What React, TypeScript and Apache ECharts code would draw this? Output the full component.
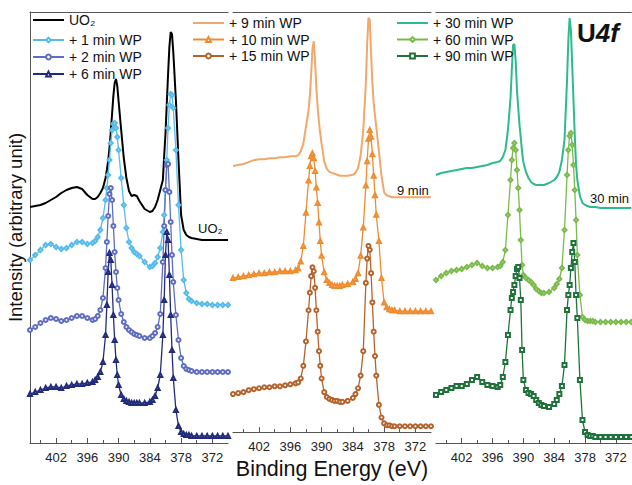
import React, { useEffect, useRef } from "react";
import * as echarts from "echarts";

// Binding energy grid (eV)
const energy = [
  407, 406, 405, 404, 403, 402, 401, 400, 399, 398, 397, 396, 395,
  394.5, 394, 393.5, 393, 392.5,
  392.25, 392, 391.75, 391.5, 391.25, 391, 390.75, 390.5, 390.25, 390,
  389.5, 389, 388.5, 388, 387.5, 387, 386.5, 386,
  385, 384, 383.5, 383, 382.5, 382, 381.5,
  381.25, 381, 380.75, 380.5, 380.25, 380, 379.75, 379.5,
  379, 378.5, 378, 377.5, 377, 376.5, 376,
  375, 374, 373, 372, 371, 370, 369,
];

// Panel 1
const uo2 = [
  236, 237, 238, 240, 243, 246, 250, 253, 255, 256, 254, 248, 244,
  244, 246, 250, 255, 265,
  273, 282, 295, 311, 329, 347, 360, 364, 357, 342,
  313, 285, 265, 252, 247, 248, 247, 242,
  234, 231, 232, 236, 243, 253, 263,
  287, 309, 339, 369, 396, 411, 409, 391,
  343, 283, 228, 213, 208, 206, 205,
  204, 203, 203, 203, 203, 203, 203,
];
const wp1 = [
  183, 188, 193, 198, 199, 196, 194, 195, 198, 201, 201, 199, 200,
  202, 206, 213, 225, 243,
  255, 268, 283, 300, 313, 319, 320, 315, 306, 293,
  265, 238, 215, 201, 195, 191, 189, 187,
  181, 176, 177, 180, 186, 195, 211,
  228, 253, 283, 315, 338, 349, 348, 335,
  293, 238, 193, 163, 150, 144, 142,
  140, 139, 139, 138, 138, 138, 138,
];
const wp2 = [
  113, 116, 120, 123, 125, 124, 122, 123, 125, 127, 127, 125, 123,
  124, 127, 133, 145, 175,
  201, 227, 249, 255, 243, 217, 191, 171, 155, 143,
  129, 121, 116, 113, 111, 109, 108, 107,
  105, 105, 107, 110, 116, 129, 181,
  217, 253, 278, 279, 251, 221, 188, 161,
  128, 103, 85, 77, 74, 73, 72,
  71, 71, 71, 71, 71, 71, 71,
];
const wp6 = [
  49, 51, 53, 55, 56, 56, 55, 57, 58, 59, 59, 60, 61,
  63, 66, 71, 81, 108,
  138, 171, 190, 183, 158, 128, 103, 83, 68, 58,
  48, 44, 42, 41, 40, 40, 40, 40,
  40, 41, 43, 47, 55, 68, 108,
  143, 188, 211, 203, 168, 128, 93, 65,
  33, 17, 11, 9, 8, 8, 7,
  7, 7, 7, 7, 7, 7, 7,
];
// Panel 2
const wp9 = [
  273, 274, 275, 277, 279, 280, 280, 281, 281, 282, 282, 283, 283,
  284, 288, 296, 313, 330,
  345, 367, 393, 401, 381, 353, 333, 318, 306, 296,
  278, 270, 267, 266, 265, 264, 263, 263,
  263, 264, 266, 271, 284, 310, 358,
  398, 425, 423, 388, 358, 338, 325, 313,
  288, 263, 246, 243, 242, 241, 241,
  241, 241, 241, 241, 241, 241, 241,
];
const wp10 = [
  158, 159, 160, 161, 162, 163, 163, 164, 164, 165, 165, 165, 166,
  168, 175, 191, 225, 258,
  273, 283, 286, 281, 268, 251, 235, 215, 196, 181,
  164, 156, 153, 151, 150, 150, 150, 151,
  152, 154, 157, 163, 181, 210, 253,
  278, 301, 310, 303, 285, 263, 243, 223,
  196, 158, 133, 128, 126, 125, 125,
  124, 124, 124, 124, 124, 124, 124,
];
const wp15 = [
  39, 40, 41, 43, 44, 45, 46, 46, 47, 47, 48, 49, 50,
  51, 55, 68, 93, 125,
  143, 160, 169, 165, 148, 125, 103, 83, 68, 55,
  41, 36, 34, 33, 32, 32, 31, 31,
  32, 35, 39, 45, 58, 83, 153,
  178, 191, 187, 163, 133, 103, 78, 58,
  28, 15, 9, 7, 7, 6, 6,
  6, 6, 6, 6, 6, 6, 6,
];
// Panel 3
const wp30 = [
  268, 270, 271, 272, 273, 274, 275, 275, 276, 277, 278, 280, 281,
  282, 286, 293, 313, 345,
  373, 398, 399, 383, 353, 335, 318, 305, 291, 281,
  271, 265, 261, 259, 258, 258, 258, 258,
  260, 263, 266, 271, 283, 303, 363,
  403, 425, 413, 378, 343, 308, 278, 263,
  247, 240, 238, 237, 236, 236, 236,
  235, 235, 235, 235, 235, 235, 235,
];
const wp60 = [
  163, 167, 170, 172, 173, 174, 176, 178, 180, 177, 175, 175, 176,
  177, 181, 193, 228, 263,
  283, 295, 300, 293, 273, 255, 233, 203, 178, 168,
  165, 163, 161, 158, 154, 152, 150, 150,
  151, 155, 159, 164, 175, 213, 268,
  293, 307, 310, 298, 278, 253, 223, 188,
  148, 126, 123, 122, 122, 122, 121,
  121, 121, 121, 121, 121, 121, 121,
];
const wp90 = [
  48, 51, 53, 55, 57, 57, 59, 63, 66, 61, 58, 57, 56,
  58, 66, 81, 108, 133,
  145, 151, 158, 167, 174, 176, 165, 143, 93, 63,
  53, 50, 49, 47, 43, 40, 38, 37,
  36, 39, 43, 49, 57, 78, 133,
  148, 158, 175, 191, 200, 181, 148, 125,
  63, 23, 11, 8, 7, 7, 6,
  6, 6, 6, 6, 6, 6, 6,
];

const majorTicks = [402, 396, 390, 384, 378, 372];
const minorTicks = [405, 399, 393, 387, 381, 375];
const xMin = 369;
const xMax = 407;
const yMin = 0;
const yMax = 431;

const FONT = 'Arial, "Liberation Sans", Helvetica, sans-serif';

const seriesDefs = [
  { name: "UO₂", values: uo2, panel: 0, color: "#000000", symbol: "none", width: 2 },
  { name: "+ 1 min WP", values: wp1, panel: 0, color: "#55bbec", symbol: "emptyDiamond", width: 1.3 },
  { name: "+ 2 min WP", values: wp2, panel: 0, color: "#5e6cc2", symbol: "emptyCircle", width: 1.3 },
  { name: "+ 6 min WP", values: wp6, panel: 0, color: "#222a7c", symbol: "emptyTriangle", width: 1.3 },
  { name: "+ 9 min WP", values: wp9, panel: 1, color: "#f4a76a", symbol: "none", width: 2 },
  { name: "+ 10 min WP", values: wp10, panel: 1, color: "#f08c30", symbol: "emptyTriangle", width: 1.3 },
  { name: "+ 15 min WP", values: wp15, panel: 1, color: "#b5622a", symbol: "emptyCircle", width: 1.3 },
  { name: "+ 30 min WP", values: wp30, panel: 2, color: "#2dbb8d", symbol: "none", width: 2 },
  { name: "+ 60 min WP", values: wp60, panel: 2, color: "#7aba4a", symbol: "emptyDiamond", width: 1.3 },
  { name: "+ 90 min WP", values: wp90, panel: 2, color: "#1f733a", symbol: "emptyRect", width: 1.3 },
];

const panelLefts = [30, 233, 436];

export default function App() {
  const ref = useRef<HTMLDivElement>(null);
  useEffect(() => {
    if (!ref.current) return;
    const chart = echarts.init(ref.current, null, { renderer: "svg" });
    const axisColor = "#555";
    const grids = panelLefts.map((l) => ({ left: l, top: 12, width: 198, height: 431 }));
    const xAxes: any[] = [];
    panelLefts.forEach((_, g) => {
      const base = {
        type: "value",
        gridIndex: g,
        min: xMin,
        max: xMax,
        inverse: true,
        splitLine: { show: false },
      };
      xAxes.push({
        ...base,
        position: "bottom",
        axisLine: { show: true, lineStyle: { color: axisColor, width: 1 } },
        axisTick: { show: true, inside: true, length: 5, customValues: majorTicks, lineStyle: { color: axisColor } },
        axisLabel: { show: true, customValues: majorTicks, fontSize: 13, margin: 8, color: "#222", fontFamily: FONT },
        name: g === 1 ? "Binding Energy (eV)" : "",
        nameLocation: "middle",
        nameGap: 25,
        nameTextStyle: { fontSize: 21.5, color: "#111", fontFamily: FONT },
      });
      xAxes.push({
        ...base,
        position: "bottom",
        axisLine: { show: false },
        axisTick: { show: true, inside: true, length: 3, customValues: minorTicks, lineStyle: { color: axisColor } },
        axisLabel: { show: false },
      });
      xAxes.push({
        ...base,
        position: "top",
        axisLine: { show: true, lineStyle: { color: axisColor, width: 1 } },
        axisTick: { show: false },
        axisLabel: { show: false },
      });
    });
    const yAxes = panelLefts.map((_, g) => ({
      type: "value",
      gridIndex: g,
      min: yMin,
      max: yMax,
      axisLine: { show: g === 0, lineStyle: { color: axisColor, width: 1 } },
      axisTick: { show: false },
      axisLabel: { show: false },
      splitLine: { show: false },
      name: g === 0 ? "Intensity (arbitrary unit)" : "",
      nameLocation: "middle",
      nameGap: 5,
      nameTextStyle: { fontSize: 18.5, color: "#111", fontFamily: FONT },
    }));
    const series = seriesDefs.map((s) => ({
      type: "line",
      name: s.name,
      xAxisIndex: s.panel * 3,
      yAxisIndex: s.panel,
      data: energy.map((e, i) => [e, s.values[i]]),
      symbol: s.symbol,
      symbolSize: 4,
      showSymbol: s.symbol !== "none",
      lineStyle: { color: s.color, width: s.width },
      itemStyle: { color: s.color, borderColor: s.color, borderWidth: 1 },
      emphasis: { disabled: true },
    }));
    const legendItem = (name: string) => {
      const def = seriesDefs.find((d) => d.name === name);
      return def && def.symbol === "none" ? { name, itemStyle: { opacity: 0 } } : { name };
    };
    const legendBase = {
      orient: "vertical",
      itemWidth: 31,
      itemHeight: 6,
      padding: 0,
      textStyle: { fontSize: 14, color: "#111", fontFamily: FONT },
      selectedMode: false,
    };
    chart.setOption({
      animation: false,
      grid: grids,
      xAxis: xAxes,
      yAxis: yAxes,
      series,
      legend: [
        { ...legendBase, data: ["UO₂"].map(legendItem), left: 32, top: 13 },
        { ...legendBase, data: ["+ 1 min WP", "+ 2 min WP", "+ 6 min WP"].map(legendItem), left: 32, top: 33, itemGap: 3 },
        { ...legendBase, data: ["+ 9 min WP", "+ 10 min WP", "+ 15 min WP"].map(legendItem), left: 192, top: 16, itemGap: 2.5 },
        { ...legendBase, data: ["+ 30 min WP", "+ 60 min WP", "+ 90 min WP"].map(legendItem), left: 396, top: 16, itemGap: 2.5 },
      ],
      graphic: [
        { type: "text", x: 198, y: 228, style: { text: "UO₂", fontSize: 13, fill: "#111", fontFamily: FONT, verticalAlign: "middle" } },
        { type: "text", x: 397, y: 190, style: { text: "9 min", fontSize: 13, fill: "#111", fontFamily: FONT, verticalAlign: "middle" } },
        { type: "text", x: 590, y: 198, style: { text: "30 min", fontSize: 13, fill: "#111", fontFamily: FONT, verticalAlign: "middle" } },
        {
          type: "text",
          x: 577,
          y: 33,
          style: {
            text: "{u|U}{f|4f}",
            verticalAlign: "middle",
            rich: {
              u: { fontSize: 26, fontWeight: "bold", fill: "#111", fontFamily: FONT },
              f: { fontSize: 26, fontWeight: "bold", fontStyle: "italic", fill: "#111", fontFamily: FONT },
            },
          },
        },
      ],
    });
    return () => chart.dispose();
  }, []);
  return <div ref={ref} style={{ position: "absolute", left: 0, top: 0, width: 632, height: 485 }} />;
}
